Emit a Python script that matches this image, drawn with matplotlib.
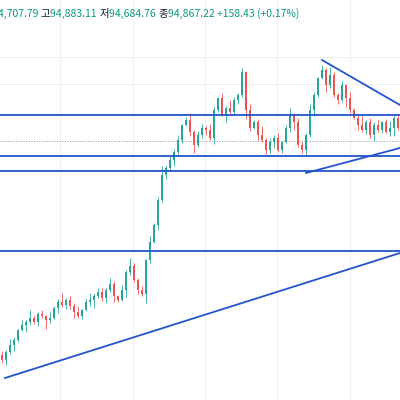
import matplotlib
matplotlib.use("Agg")
import matplotlib.pyplot as plt

closes = [40,48,55,60,70,75,78,82,78,86,84,80,82,92,98,95,100,94,88,84,90,98,100,104,108,102,110,116,104,100,
          110,128,134,120,110,106,140,158,175,200,225,232,240,248,260,275,280,268,255,265,272,270,262,290,302,285,292,288,300,305,
          328,290,272,278,265,260,250,258,262,250,258,272,285,278,255,250,265,290,305,322,330,315,325,305,300,315,302,290,282,275,
          270,278,265,275,270,278,268,272,282,272]
open0 = 45
wick_up = [4,2,6,3,1,5,2,8,3,2,4,1,6,2,3,9,2,4,3,5,1,3,7,2,4]
wick_dn = [3,5,2,6,2,1,7,3,2,4,2,9,3,1,5,2,4,3,6,2,3,1,4,8,2]
hlines = [285, 244, 229, 149]
dotted = 259
tri_top = ([322, 400], [340, 295])
tri_bot = ([306, 400], [227, 252])
trend = ([5, 400], [22, 147])
vgrid = [60, 133, 205, 277, 350]
hgrid = [343, 316]

fig = plt.figure(figsize=(4, 4), dpi=100)
ax = fig.add_axes([0, 0, 1, 1])
ax.set_xlim(0, 400); ax.set_ylim(0, 400); ax.axis("off")
for g in vgrid:
    ax.axvline(g, color="#f0f0f0", lw=0.8, zorder=0)
for g in hgrid:
    ax.axhline(g, color="#f0f0f0", lw=0.8, zorder=0)
prev = open0
for i, c in enumerate(closes):
    x = 2 + 4 * i
    o = prev
    col = "#26a69a" if c >= o else "#ef5350"
    hi = max(o, c) + wick_up[i % len(wick_up)]
    lo = min(o, c) - wick_dn[i % len(wick_dn)]
    ax.vlines(x, lo, hi, color=col, lw=0.6, zorder=2)
    ax.bar(x, max(abs(c - o), 1), bottom=min(o, c), width=2.4, color=col, zorder=2)
    prev = c
for h in hlines:
    ax.axhline(h, color="#2255cc", lw=1.3, zorder=3)
ax.axhline(dotted, color="#999999", lw=0.7, ls=":", zorder=1)
for xs, ys in (tri_top, tri_bot, trend):
    ax.plot(xs, ys, color="#2255cc", lw=1.3, zorder=3)
parts = [("4,707.79 ", "#089981"), ("고", "#131722"), ("94,883.11 ", "#089981"),
         ("저", "#131722"), ("94,684.76 ", "#089981"), ("종", "#131722"), ("94,867.22 ", "#089981"),
         ("+158.43 (+0.17%)", "#089981")]
x = -2
for t, col in parts:
    txt = ax.text(x, 386, t, fontsize=7.5, color=col, va="center",
                  family=["Noto Sans CJK KR", "DejaVu Sans"])
    fig.canvas.draw()
    bb = txt.get_window_extent()
    x += bb.width
fig.savefig("out.png", dpi=100)
